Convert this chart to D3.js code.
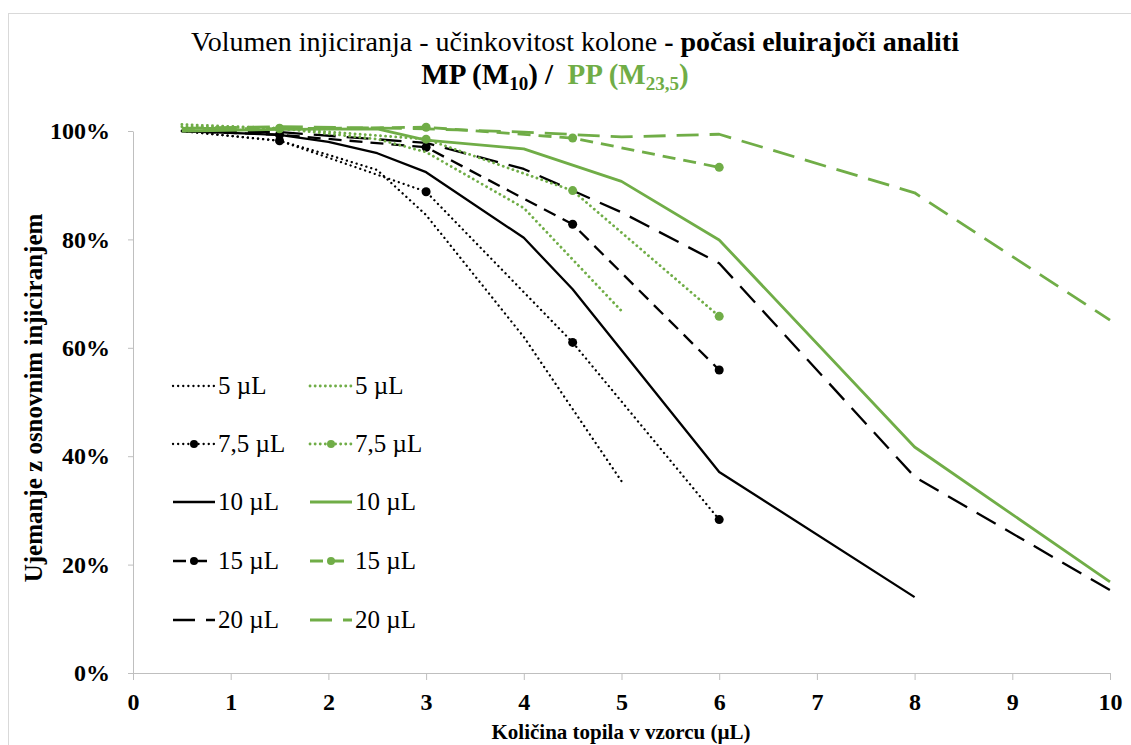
<!DOCTYPE html>
<html>
<head>
<meta charset="utf-8">
<style>
  body { margin: 0; background: #fff; }
  text { font-family: "Liberation Serif", "Times New Roman", serif; fill: #000; }
  .tick text { font-size: 24px; font-weight: bold; }
  .axis path, .axis line { stroke: #bfbfbf; }
  .lbl { font-size: 25px; }
</style>
</head>
<body>
<svg width="1131" height="745"></svg>
<script src="https://cdnjs.cloudflare.com/ajax/libs/d3/7.8.5/d3.min.js"></script>
<script>
// MP (M10) - black series
var mp5x  = [0.5, 1.5, 2, 2.5, 3, 4, 5];
var mp5y  = [1.000, 0.982, 0.956, 0.928, 0.845, 0.620, 0.354];
var mp75x = [0.5, 1.5, 3, 4.5, 6];
var mp75y = [1.000, 0.982, 0.888, 0.610, 0.283];
var mp10x = [0.5, 1.5, 2, 2.5, 3, 4, 4.5, 6, 8];
var mp10y = [1.000, 0.993, 0.980, 0.959, 0.924, 0.803, 0.708, 0.371, 0.140];
var mp15x = [0.5, 1.5, 3, 4.5, 6];
var mp15y = [1.000, 0.993, 0.970, 0.828, 0.559];
var mp20x = [0.5, 1.5, 3, 4, 5, 6, 8, 10];
var mp20y = [1.000, 0.998, 0.978, 0.930, 0.850, 0.756, 0.362, 0.153];

// PP (M23,5) - green series
var pp5x  = [0.5, 1.5, 2.5, 3, 4, 5];
var pp5y  = [1.012, 1.005, 0.985, 0.961, 0.858, 0.668];
var pp75x = [0.5, 1.5, 3, 4.5, 6];
var pp75y = [1.008, 1.005, 0.985, 0.890, 0.658];
var pp10x = [0.5, 1.5, 2.5, 3, 4, 5, 6, 8, 10];
var pp10y = [1.000, 1.003, 1.004, 0.983, 0.967, 0.907, 0.799, 0.417, 0.168];
var pp15x = [0.5, 1.5, 3, 4.5, 6];
var pp15y = [1.005, 1.004, 1.007, 0.987, 0.933];
var pp20x = [0.5, 1.5, 3, 4, 5, 6, 8, 10];
var pp20y = [1.005, 1.008, 1.004, 0.998, 0.989, 0.994, 0.886, 0.651];

var markedX = [1.5, 3, 4.5, 6];
var volumes = ["5 µL", "7,5 µL", "10 µL", "15 µL", "20 µL"];
var xTicks = [0, 1, 2, 3, 4, 5, 6, 7, 8, 9, 10];
var yTicks = [0, 0.2, 0.4, 0.6, 0.8, 1.0];

var GREEN = "#70ad47";

var styles = [
  {dash: "0.1,5", cap: "round", marker: false},
  {dash: "0.1,5", cap: "round", marker: true},
  {dash: null, cap: "butt", marker: false},
  {dash: "13,8", cap: "butt", marker: true},
  {dash: "22,11", cap: "butt", marker: false}
];

var zip = function(xs, ys) { return xs.map(function(x, i) { return [x, ys[i]]; }); };
var mp = [zip(mp5x, mp5y), zip(mp75x, mp75y), zip(mp10x, mp10y), zip(mp15x, mp15y), zip(mp20x, mp20y)];
var pp = [zip(pp5x, pp5y), zip(pp75x, pp75y), zip(pp10x, pp10y), zip(pp15x, pp15y), zip(pp20x, pp20y)];

var svg = d3.select("svg");

svg.append("rect")
  .attr("x", 8.5).attr("y", 13.5)
  .attr("width", 1130).attr("height", 740)
  .attr("fill", "#fff").attr("stroke", "#d9d9d9");

var x = d3.scaleLinear().domain([0, 10]).range([133, 1110]);
var y = d3.scaleLinear().domain([0, 1]).range([673, 131]);

svg.append("g")
  .attr("class", "axis")
  .attr("transform", "translate(0,673)")
  .call(d3.axisBottom(x).tickValues(xTicks).tickSize(7).tickSizeOuter(0).tickPadding(8))
  .call(function(g) { g.attr("font-family", null); g.selectAll("text").attr("dy", "0.9em"); });

svg.append("g")
  .attr("class", "axis")
  .attr("transform", "translate(133,0)")
  .call(d3.axisLeft(y).tickValues(yTicks).tickFormat(d3.format(".0%")).tickSize(5).tickSizeOuter(0).tickPadding(18))
  .call(function(g) { g.attr("font-family", null); });

var line = d3.line().x(function(d) { return x(d[0]); }).y(function(d) { return y(d[1]); });

function drawSeries(data, color, width) {
  data.forEach(function(pts, i) {
    var s = styles[i];
    svg.append("path")
      .datum(pts)
      .attr("d", line)
      .attr("fill", "none")
      .attr("stroke", color)
      .attr("stroke-width", width)
      .attr("stroke-linecap", s.cap)
      .attr("stroke-linejoin", "round")
      .attr("stroke-dasharray", s.dash);
    if (s.marker) {
      svg.selectAll(null)
        .data(pts.filter(function(d) { return markedX.indexOf(d[0]) >= 0; }))
        .enter().append("circle")
        .attr("cx", function(d) { return x(d[0]); })
        .attr("cy", function(d) { return y(d[1]); })
        .attr("r", 4.5)
        .attr("fill", color);
    }
  });
}

drawSeries(mp, "#000", 2.3);
drawSeries(pp, GREEN, 2.8);

// legend
var legRows = [386, 444, 502, 561, 620];
function drawLegend(x0, color, width) {
  volumes.forEach(function(v, i) {
    var s = styles[i], ly = legRows[i];
    svg.append("line")
      .attr("x1", x0).attr("x2", x0 + 42)
      .attr("y1", ly).attr("y2", ly)
      .attr("stroke", color)
      .attr("stroke-width", width)
      .attr("stroke-linecap", s.cap)
      .attr("stroke-dasharray", s.dash);
    if (s.marker) {
      svg.append("circle").attr("cx", x0 + 21).attr("cy", ly).attr("r", 4).attr("fill", color);
    }
    svg.append("text")
      .attr("class", "lbl")
      .attr("x", x0 + 45).attr("y", ly + 8)
      .text(v);
  });
}
drawLegend(173, "#000", 2.3);
drawLegend(310, GREEN, 2.8);

// titles: pieces laid out one after another
function titleLine(parts, cx, baseY, size, subSize) {
  var nodes = parts.map(function(p) {
    return svg.append("text")
      .attr("y", baseY + (p.sub ? 6 : 0))
      .attr("font-weight", p.bold ? "bold" : "normal")
      .style("font-size", (p.sub ? subSize : size) + "px")
      .style("fill", p.color || "#000")
      .text(p.t);
  });
  var widths = nodes.map(function(n) { return n.node().getComputedTextLength(); });
  var cur = cx - d3.sum(widths) / 2;
  nodes.forEach(function(n, i) { n.attr("x", cur); cur += widths[i]; });
}

titleLine([
  {t: "Volumen injiciranja - učinkovitost kolone\u00a0"},
  {t: "- počasi eluirajoči analiti", bold: true}
], 575, 51, 28, 19);

titleLine([
  {t: "MP (M", bold: true},
  {t: "10", bold: true, sub: true},
  {t: ")\u00a0/\u00a0\u00a0", bold: true},
  {t: "PP (M", bold: true, color: GREEN},
  {t: "23,5", bold: true, sub: true, color: GREEN},
  {t: ")", bold: true, color: GREEN}
], 555, 84, 29, 19);

svg.append("text")
  .attr("x", 621).attr("y", 739)
  .attr("text-anchor", "middle")
  .attr("font-weight", "bold")
  .style("font-size", "21px")
  .text("Količina topila v vzorcu (µL)");

svg.append("text")
  .attr("transform", "translate(42,398) rotate(-90)")
  .attr("text-anchor", "middle")
  .attr("font-weight", "bold")
  .style("font-size", "25px")
  .text("Ujemanje z osnovnim injiciranjem");
</script>
</body>
</html>
